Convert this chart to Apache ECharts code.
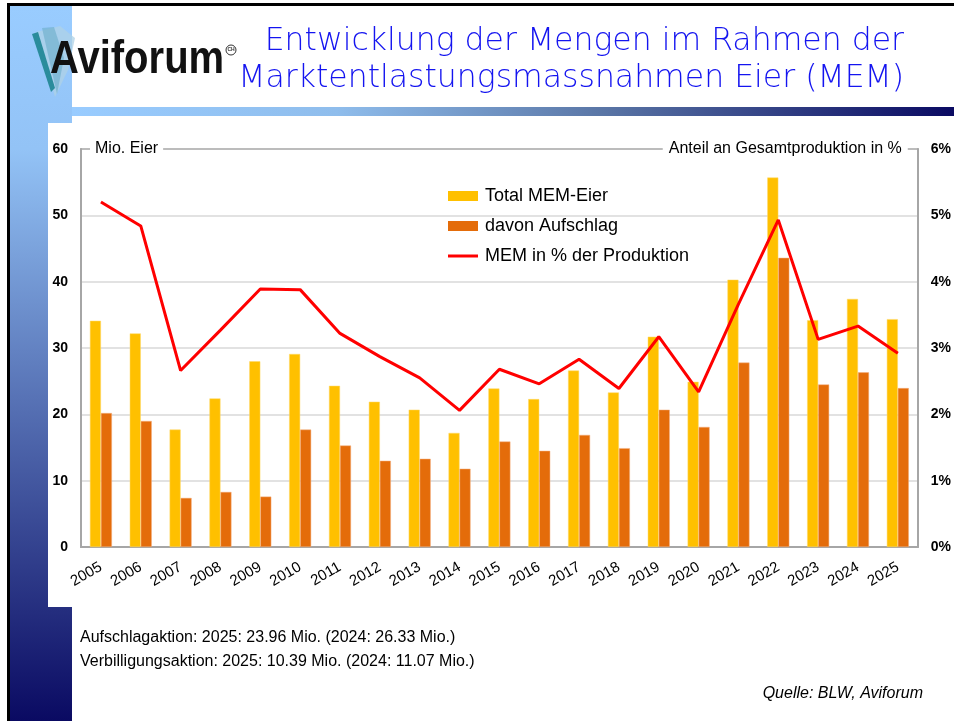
<!DOCTYPE html>
<html>
<head>
<meta charset="utf-8">
<script src="https://cdn.jsdelivr.net/npm/echarts@6/dist/echarts.min.js"></script>
<style>
html, body { margin: 0; padding: 0; background: #fff; }
#chart { width: 954px; height: 721px; }
</style>
</head>
<body>
<div id="chart"></div>
<script>
var years = ['2005', '2006', '2007', '2008', '2009', '2010', '2011', '2012', '2013', '2014', '2015',
    '2016', '2017', '2018', '2019', '2020', '2021', '2022', '2023', '2024', '2025'];
var totalMem = [34.1, 32.2, 17.7, 22.4, 28.0, 29.1, 24.3, 21.9, 20.7, 17.2, 23.9,
    22.3, 26.6, 23.3, 31.7, 24.9, 40.3, 55.7, 34.2, 37.4, 34.35];
var aufschlag = [20.2, 19.0, 7.4, 8.3, 7.6, 17.7, 15.3, 13.0, 13.3, 11.8, 15.9,
    14.5, 16.9, 14.9, 20.7, 18.1, 27.8, 43.6, 24.5, 26.33, 23.96];
var memPct = [5.2, 4.84, 2.66, 3.27, 3.89, 3.88, 3.22, 2.87, 2.55, 2.06, 2.68,
    2.46, 2.83, 2.39, 3.17, 2.34, 3.66, 4.93, 3.13, 3.33, 2.92];
var seriesNames = ['Total MEM-Eier', 'davon Aufschlag', 'MEM in % der Produktion'];
var titleLines = ['Entwicklung der Mengen im Rahmen der', 'Marktentlastungsmassnahmen Eier (MEM)'];
var noteLines = ['Aufschlagaktion: 2025: 23.96 Mio. (2024: 26.33 Mio.)',
    'Verbilligungsaktion: 2025: 10.39 Mio. (2024: 11.07 Mio.)'];

var font = 'Liberation Sans, Arial, sans-serif';
var gridGray = '#a6a6a6';

var chart = echarts.init(document.getElementById('chart'));

var option = {
    animation: false,
    backgroundColor: '#fff',
    textStyle: { fontFamily: font },
    title: [
        {
            text: noteLines.join('\n'),
            left: 80,
            top: 626,
            padding: 0,
            textStyle: { fontFamily: font, fontWeight: 'normal', fontSize: 16, lineHeight: 24, color: '#000' }
        },
        {
            text: 'Quelle: BLW, Aviforum',
            right: 31,
            top: 686,
            padding: 0,
            textStyle: { fontFamily: font, fontWeight: 'normal', fontStyle: 'italic', fontSize: 16, color: '#000' }
        }
    ],
    graphic: [
        // left stripe
        {
            type: 'rect', z: -10,
            shape: { x: 9, y: 6, width: 63, height: 715 },
            style: {
                fill: {
                    type: 'linear', x: 0, y: 0, x2: 0, y2: 1,
                    colorStops: [{ offset: 0, color: '#99ccff' }, { offset: 0.2, color: '#93c3f6' },
                        { offset: 1, color: '#0a0a62' }]
                }
            }
        },
        // top bar under title
        {
            type: 'rect', z: -9,
            shape: { x: 72, y: 107, width: 882, height: 9 },
            style: {
                fill: {
                    type: 'linear', x: 0, y: 0, x2: 1, y2: 0,
                    colorStops: [{ offset: 0, color: '#99ccff' }, { offset: 0.3, color: '#8fbdec' },
                        { offset: 0.6, color: '#5a76a6' }, { offset: 1, color: '#0a0a62' }]
                }
            }
        },
        // white chart panel
        {
            type: 'rect', z: -8,
            shape: { x: 48, y: 123, width: 906, height: 484 },
            style: { fill: '#fff' }
        },
        // frame
        { type: 'rect', z: -7, shape: { x: 7, y: 3, width: 947, height: 3 }, style: { fill: '#000' } },
        { type: 'rect', z: -7, shape: { x: 7, y: 3, width: 3, height: 718 }, style: { fill: '#000' } },
        // logo feathers
        {
            type: 'polygon', z: -6,
            shape: { points: [[36, 32], [60, 26], [75, 38], [68, 70], [55, 97]] },
            style: { fill: 'rgba(175,210,230,0.75)' }
        },
        {
            type: 'polygon', z: -6,
            shape: { points: [[42, 28], [54, 27], [64, 58], [57, 94]] },
            style: { fill: 'rgba(110,175,205,0.65)' }
        },
        {
            type: 'polygon', z: -5,
            shape: { points: [[32, 34], [38, 32], [55, 88], [51, 92]] },
            style: { fill: '#2a8c9c' }
        },
        // logo word
        {
            type: 'text',
            x: 50, y: 60,
            scaleX: 0.87,
            style: {
                text: 'Aviforum',
                align: 'left',
                verticalAlign: 'middle',
                fontFamily: font,
                fontWeight: 'bold',
                fontSize: 46,
                fill: '#111'
            }
        },
        // main title
        {
            type: 'text',
            x: 904, y: 23,
            style: {
                text: titleLines.join('\n'),
                align: 'right',
                verticalAlign: 'top',
                fontFamily: 'DejaVu Sans, sans-serif',
                fontWeight: 200,
                fontSize: 31.5,
                lineHeight: 37,
                fill: '#1414f0'
            }
        },
        // registered mark
        {
            type: 'circle',
            shape: { cx: 231, cy: 50, r: 5 },
            style: { fill: 'none', stroke: '#333', lineWidth: 1 }
        },
        {
            type: 'text',
            x: 231, y: 50,
            style: { text: 'CH', fontSize: 5, fontFamily: font, fontWeight: 'bold', fill: '#333', align: 'center', verticalAlign: 'middle' }
        }
    ],
    legend: {
        orient: 'vertical',
        left: 448,
        top: 187,
        padding: 0,
        itemWidth: 30,
        itemHeight: 10,
        itemGap: 12,
        itemStyle: { borderWidth: 0 },
        textStyle: { fontFamily: font, fontSize: 18, color: '#000', padding: [0, 0, 0, 2] },
        data: [
            { name: seriesNames[0], icon: 'rect' },
            { name: seriesNames[1], icon: 'rect' },
            { name: seriesNames[2], icon: 'path://M0,0L0,0M0,3.5L30,3.5L30,6.5L0,6.5ZM30,10L30,10' }
        ]
    },
    grid: {
        left: 81,
        right: 34,
        top: 149,
        bottom: 174,
        show: true,
        borderColor: gridGray,
        borderWidth: 1.5
    },
    xAxis: {
        type: 'category',
        data: years,
        axisLine: { lineStyle: { color: gridGray, width: 2 } },
        axisTick: { show: false },
        axisLabel: { interval: 0, rotate: 30, margin: 19, fontSize: 15, color: '#000', fontFamily: font }
    },
    yAxis: [
        {
            type: 'value',
            min: 0,
            max: 60,
            interval: 10,
            name: '{gap|}{t|Mio. Eier}',
            nameLocation: 'end',
            nameGap: 0,
            nameTextStyle: {
                align: 'left',
                verticalAlign: 'middle',
                rich: {
                    gap: { width: 9 },
                    t: { backgroundColor: '#fff', padding: [2, 5, 2, 5], fontSize: 16, color: '#000', fontFamily: font }
                }
            },
            axisLine: { show: true, lineStyle: { color: gridGray, width: 2 } },
            axisTick: { show: false },
            axisLabel: { margin: 13, fontSize: 14, fontWeight: 'bold', color: '#000', fontFamily: font },
            splitLine: { show: true, showMinLine: false, showMaxLine: false, lineStyle: { color: '#d9d9d9', width: 1.5 } }
        },
        {
            type: 'value',
            min: 0,
            max: 6,
            interval: 1,
            name: '{t|Anteil an Gesamtproduktion in %}{gap|}',
            nameLocation: 'end',
            nameGap: 0,
            nameTextStyle: {
                align: 'right',
                verticalAlign: 'middle',
                rich: {
                    gap: { width: 10 },
                    t: { backgroundColor: '#fff', padding: [2, 6, 2, 6], fontSize: 16, color: '#000', fontFamily: font }
                }
            },
            axisLine: { show: true, lineStyle: { color: gridGray, width: 2 } },
            axisTick: { show: false },
            axisLabel: { margin: 13, fontSize: 14, fontWeight: 'bold', color: '#000', fontFamily: font, formatter: '{value}%' },
            splitLine: { show: false }
        }
    ],
    series: [
        {
            name: seriesNames[0],
            type: 'bar',
            data: totalMem,
            barWidth: 11,
            barGap: '0%',
            itemStyle: { color: '#ffc000', borderColor: '#ffd966', borderWidth: 0.5 }
        },
        {
            name: seriesNames[1],
            type: 'bar',
            data: aufschlag,
            barWidth: 11,
            itemStyle: { color: '#e46c0a', borderColor: '#f4b183', borderWidth: 0.5 }
        },
        {
            name: seriesNames[2],
            type: 'line',
            yAxisIndex: 1,
            data: memPct,
            symbol: 'none',
            lineStyle: { color: '#ff0000', width: 3 },
            itemStyle: { color: '#ff0000' },
            z: 5
        }
    ]
};

chart.setOption(option);
</script>
</body>
</html>
